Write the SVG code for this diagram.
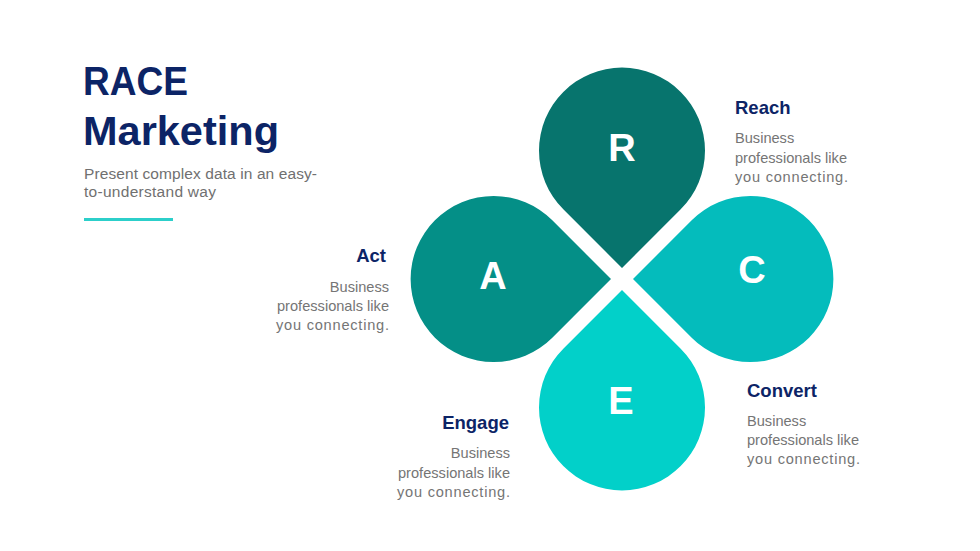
<svg xmlns="http://www.w3.org/2000/svg" width="980" height="551" viewBox="0 0 980 551">
<defs>
<style>
.title{font-family:"Liberation Sans",Arial,sans-serif;font-weight:bold;fill:#0c2466;font-size:40px}
.sub{font-family:"Liberation Sans",Arial,sans-serif;fill:#707070;font-size:15.5px}
.head{font-family:"Liberation Sans",Arial,sans-serif;font-weight:bold;fill:#0c2466;font-size:18.5px}
.body{font-family:"Liberation Sans",Arial,sans-serif;fill:#757575;font-size:14.6px}
.letter{font-family:"Liberation Sans",Arial,sans-serif;font-weight:bold;fill:#ffffff;font-size:38px;text-anchor:middle}
.end{text-anchor:end}
</style>
<path id="petal" d="M0,-11 L-58.69,-69.69 A83,83 0 1 1 58.69,-69.69 Z"/>
</defs>
<rect width="980" height="551" fill="#ffffff"/>

<g id="header">
<text class="title" x="83" y="95" textLength="105" lengthAdjust="spacingAndGlyphs">RACE</text>
<text class="title" x="83" y="145" textLength="196" lengthAdjust="spacingAndGlyphs">Marketing</text>
<text class="sub" x="84" y="179" textLength="233">Present complex data in an easy-</text>
<text class="sub" x="84" y="197" textLength="132">to-understand way</text>
<rect x="84" y="218" width="89" height="3" fill="#2ccfca"/>
</g>

<g id="connectors"></g>

<g id="node-R">
<use href="#petal" transform="translate(622,279)" fill="#07746d"/>
<text class="letter" x="622" y="161">R</text>
</g>
<g id="node-C">
<use href="#petal" transform="translate(622,279) rotate(90)" fill="#04bcbc"/>
<text class="letter" x="752" y="283">C</text>
</g>
<g id="node-E">
<use href="#petal" transform="translate(622,279) rotate(180)" fill="#02d0c9"/>
<text class="letter" x="621" y="414">E</text>
</g>
<g id="node-A">
<use href="#petal" transform="translate(622,279) rotate(270)" fill="#048f87"/>
<text class="letter" x="493" y="289">A</text>
</g>

<g id="label-reach">
<text class="head" x="735" y="114">Reach</text>
<text class="body" x="735" y="143">Business</text>
<text class="body" x="735" y="163" textLength="112">professionals like</text>
<text class="body" x="735" y="182" textLength="113">you connecting.</text>
</g>
<g id="label-act">
<text class="head end" x="386" y="262">Act</text>
<text class="body end" x="389" y="292">Business</text>
<text class="body end" x="389" y="311" textLength="112">professionals like</text>
<text class="body end" x="389" y="330" textLength="113">you connecting.</text>
</g>
<g id="label-engage">
<text class="head end" x="509" y="429">Engage</text>
<text class="body end" x="510" y="458">Business</text>
<text class="body end" x="510" y="478" textLength="112">professionals like</text>
<text class="body end" x="510" y="497" textLength="113">you connecting.</text>
</g>
<g id="label-convert">
<text class="head" x="747" y="397">Convert</text>
<text class="body" x="747" y="426">Business</text>
<text class="body" x="747" y="445" textLength="112">professionals like</text>
<text class="body" x="747" y="464" textLength="113">you connecting.</text>
</g>
</svg>
